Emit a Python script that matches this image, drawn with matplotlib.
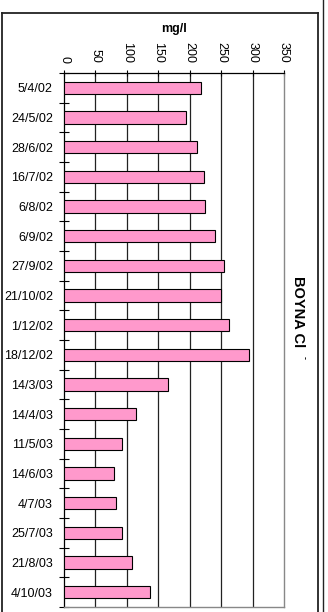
import matplotlib
matplotlib.use("Agg")
import matplotlib.pyplot as plt
from matplotlib.lines import Line2D
import numpy as np

plt.rcParams['font.family'] = ['Liberation Sans', 'DejaVu Sans']

dates = ["5/4/02", "24/5/02", "28/6/02", "16/7/02", "6/8/02", "6/9/02",
         "27/9/02", "21/10/02", "1/12/02", "18/12/02", "14/3/03", "14/4/03",
         "11/5/03", "14/6/03", "4/7/03", "25/7/03", "21/8/03", "4/10/03"]
values = [218, 194, 212, 222, 225, 241, 254, 250, 262, 295, 166, 114,
          92, 79, 83, 93, 108, 137]
xticks = [0, 50, 100, 150, 200, 250, 300, 350]
title_main = "BOYNA Cl"
title_sup = "-"
unit = "mg/l"

W, H = 328, 612
fig = plt.figure(figsize=(W / 100, H / 100), dpi=100)
fig.patch.set_facecolor('white')

left, right, top, bottom = 64, 284, 73, 607
ax = fig.add_axes([left / W, 1 - bottom / H, (right - left) / W, (bottom - top) / H])

n = len(dates)
pos = np.arange(n)
ax.barh(pos, values, height=0.42, color='#FF99CC', edgecolor='black',
        linewidth=0.8, zorder=3)

ax.set_xlim(0, 350)
ax.set_ylim(n - 0.5, -0.5)

ax.xaxis.tick_top()
ax.xaxis.set_label_position('top')
ax.set_xticks(xticks)
ax.set_xticklabels([str(t) for t in xticks], rotation=-90, fontsize=9)
ax.tick_params(axis='x', direction='inout', length=4.5, width=0.8, pad=5)

ax.set_yticks(pos)
ax.set_yticklabels(dates, fontsize=9)
ax.set_yticks(np.arange(n + 1) - 0.5, minor=True)
ax.tick_params(axis='y', which='major', length=0, pad=8)
ax.tick_params(axis='y', which='minor', direction='inout', length=6.5, width=0.8)

for t in xticks[1:-1]:
    ax.axvline(t, color='#222222', linewidth=0.9, zorder=1)

ax.spines['left'].set_color('black')
ax.spines['left'].set_linewidth(0.9)
ax.spines['top'].set_color('black')
ax.spines['top'].set_linewidth(0.9)
ax.spines['right'].set_color('#888888')
ax.spines['right'].set_linewidth(1.0)
ax.spines['bottom'].set_color('#888888')
ax.spines['bottom'].set_linewidth(1.0)

fig.text(174 / W, 1 - 29 / H, unit, ha='center', va='center',
         fontsize=9, fontweight='bold')
fig.text(298 / W, 1 - 312 / H, title_main, ha='center', va='center',
         rotation=-90, fontsize=10.5, fontweight='bold')
fig.text(304 / W, 1 - 357 / H, title_sup, ha='center', va='center',
         rotation=-90, fontsize=6.5, fontweight='bold')

# outer chart frame
lw = 1.3
fig.add_artist(Line2D([1.5 / W, 1.5 / W], [0, 1 - 13 / H], color='#222222', linewidth=lw))
fig.add_artist(Line2D([1.5 / W, 317.5 / W], [1 - 13 / H, 1 - 13 / H], color='#222222', linewidth=lw))
fig.add_artist(Line2D([317.5 / W, 317.5 / W], [0, 1 - 13 / H], color='#222222', linewidth=lw))
fig.add_artist(Line2D([322.5 / W, 322.5 / W], [0, 1], color='#222222', linewidth=1.0))

fig.savefig('out.png', dpi=100)
